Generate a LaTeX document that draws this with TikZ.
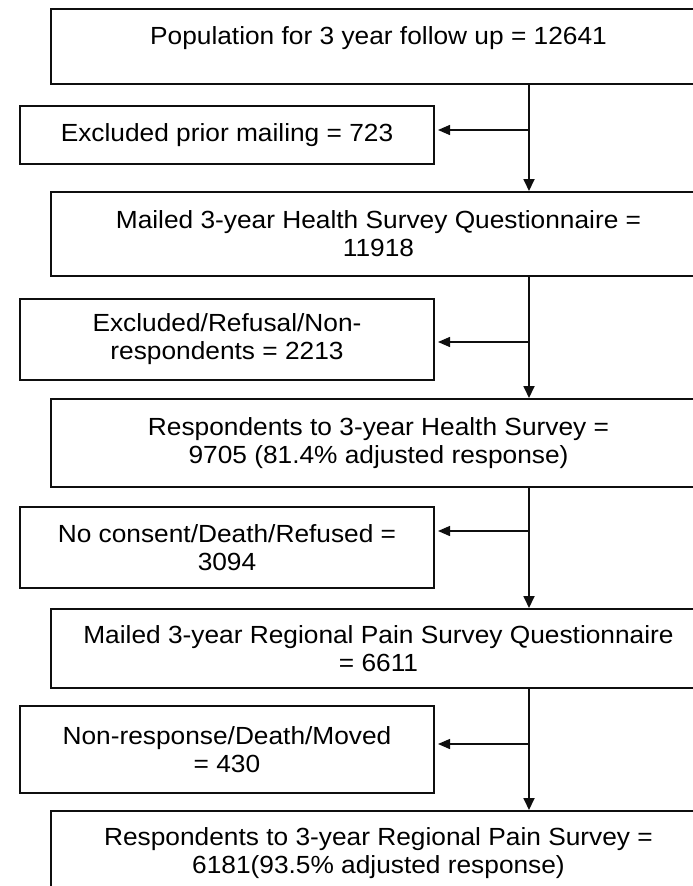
\documentclass[tikz,border=0pt]{standalone}
\usepackage{fontspec}
\setmainfont[FakeStretch=1.06]{Liberation Sans}
\usepackage{tikz}
\usetikzlibrary{arrows.meta, calc}
\definecolor{boxblack}{RGB}{15, 15, 15}
\newcommand{\flowfont}{\fontsize{24.8}{28}\selectfont}

\begin{document}
\begin{tikzpicture}[x=1pt, y=1pt,
  mainbox/.style={draw=boxblack, line width=2pt, align=center, inner sep=0pt, minimum width=655pt, anchor=north west, font=\flowfont},
  sidebox/.style={draw=boxblack, line width=2pt, align=center, inner sep=0pt, minimum width=414pt, anchor=north west, font=\flowfont},
  flow/.style={-{Triangle[length=12pt, width=11pt]}, line width=1.8pt, boxblack},
  side/.style={-{Triangle[length=12pt, width=10pt]}, line width=1.4pt, boxblack, shorten >=3pt}]
\useasboundingbox (0,0) rectangle (693,-886);
\clip (0,0) rectangle (693,-886);
\node[mainbox, minimum height=75pt, text height=18pt, text depth=23pt] (pop) at (50,-8) {Population for 3 year follow up = 12641};
\node[sidebox, minimum height=58pt] (excl1) at (19,-105) {Excluded prior mailing = 723};
\node[mainbox, minimum height=84pt] (mail1) at (50,-191) {Mailed 3-year Health Survey Questionnaire =\\ 11918};
\node[sidebox, minimum height=81pt] (excl2) at (19,-298) {Excluded/Refusal/Non-\\respondents = 2213};
\node[mainbox, minimum height=88pt] (resp1) at (50,-398) {Respondents to 3-year Health Survey =\\ 9705 (81.4\% adjusted response)};
\node[sidebox, minimum height=81pt] (excl3) at (19,-506) {No consent/Death/Refused =\\ 3094};
\node[mainbox, minimum height=79pt] (mail2) at (50,-608) {Mailed 3-year Regional Pain Survey Questionnaire\\ = 6611};
\node[sidebox, minimum height=87pt] (excl4) at (19,-705) {Non-response/Death/Moved\\ = 430};
\node[mainbox, minimum height=85pt] (resp2) at (50,-810) {Respondents to 3-year Regional Pain Survey =\\ 6181(93.5\% adjusted response)};
\coordinate (spine) at (529,0);
\coordinate (j1) at (529,-130);
\coordinate (j2) at (529,-342);
\coordinate (j3) at (529,-531);
\coordinate (j4) at (529,-744);
\draw[flow] (pop.south -| spine) -- (mail1.north -| spine);
\draw[flow] (mail1.south -| spine) -- (resp1.north -| spine);
\draw[flow] (resp1.south -| spine) -- (mail2.north -| spine);
\draw[flow] (mail2.south -| spine) -- (resp2.north -| spine);
\draw[side] (j1) -- (j1 -| excl1.east);
\draw[side] (j2) -- (j2 -| excl2.east);
\draw[side] (j3) -- (j3 -| excl3.east);
\draw[side] (j4) -- (j4 -| excl4.east);
\end{tikzpicture}
\end{document}
